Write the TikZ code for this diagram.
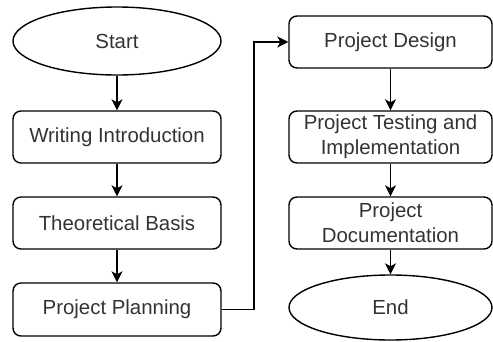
\documentclass[tikz,border=0pt]{standalone}
\usepackage{fontspec}
\setmainfont{Liberation Sans}
\usetikzlibrary{shapes.geometric,arrows.meta}
\begin{document}
\begin{tikzpicture}[x=1pt,y=-1pt,
  every node/.style={font=\fontsize{20.4}{25}\selectfont, text=black!80, inner sep=0pt},
  proc/.style={draw=black, line width=1.4pt, rounded corners=8pt, rectangle, align=center},
  term/.style={draw=black, line width=1.4pt, ellipse},
  conn/.style={draw=black, line width=1.4pt, -{Stealth[length=11pt,width=11pt,inset=3pt]}}]
\useasboundingbox (0,0) rectangle (493,341);
\node[term, minimum width=208pt, minimum height=68pt] (start) at (117,41) {Start};
\node[proc, minimum width=208pt, minimum height=52pt] (intro) at (117,137) {Writing Introduction};
\node[proc, minimum width=208pt, minimum height=52pt] (theory) at (117,223) {Theoretical Basis};
\node[proc, minimum width=208pt, minimum height=53pt] (plan) at (117,309.5) {Project Planning};
\node[proc, minimum width=203pt, minimum height=52pt] (design) at (390.5,42) {Project Design};
\node[proc, minimum width=203pt, minimum height=52pt] (test) at (390.5,137) {Project Testing and\\Implementation};
\node[proc, minimum width=203pt, minimum height=52pt] (doc) at (390.5,223) {Project\\Documentation};
\node[term, minimum width=203pt, minimum height=65pt] (end) at (390.5,307.5) {End};
\coordinate (c1) at (254,309.5);
\coordinate (c2) at (254,42);
\draw[conn] (start) -- (intro);
\draw[conn] (intro) -- (theory);
\draw[conn] (theory) -- (plan);
\draw[conn] (plan.east) -- (c1) -- (c2) -- (design.west);
\draw[conn] (design) -- (test);
\draw[conn] (test) -- (doc);
\draw[conn] (doc) -- (end);
\end{tikzpicture}
\end{document}
